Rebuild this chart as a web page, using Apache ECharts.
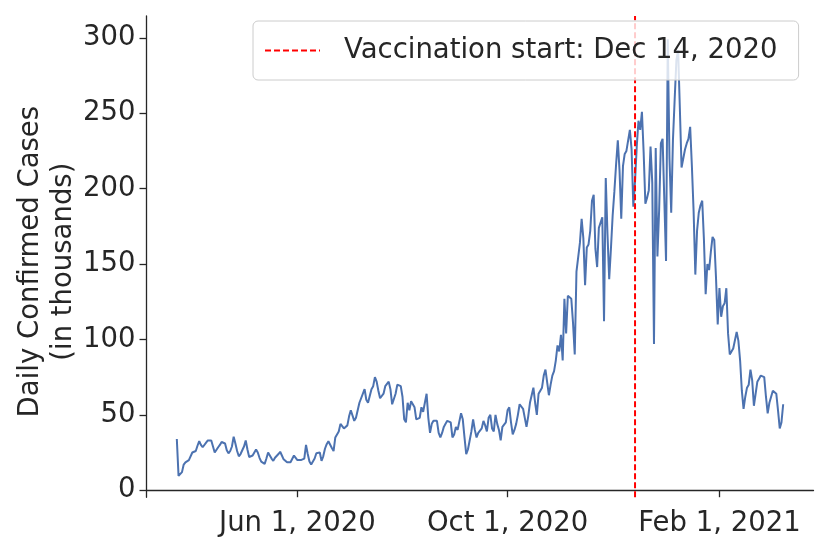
<!DOCTYPE html>
<html>
<head>
<meta charset="utf-8">
<script src="https://cdn.jsdelivr.net/npm/echarts@6.0.0/dist/echarts.min.js"></script>
<style>
  html, body { margin: 0; padding: 0; background: #fff; }
  #main { width: 830px; height: 554px; }
</style>
</head>
<body>
<div id="main"></div>
<script>
// first day of the series, one value per day after it (in thousands)
const startDate = "2020-03-23";
const dailyCases = [
  34, 9.5, 10, 12, 17, 18.5, 19.5, 20, 21, 25, 26, 26, 29.5, 32.5, 30, 28.5, 29, 31.5, 33, 34,
  33, 29, 25, 26, 28.5, 30, 32, 32.5, 31, 26.5, 24.5, 26, 29, 35.5, 31, 26, 22.5, 24, 26.5, 29,
  33, 27, 22, 22, 23, 25, 27, 25, 21.5, 19, 18, 17.5, 21, 25, 25, 21, 19.5, 21.5, 20.5, 24,
  25.5, 23, 20.5, 19.5, 18.5, 18, 18.5, 19.5, 23, 24, 20, 21, 20, 20, 21, 30, 24, 19, 17, 17.5,
  21, 24.5, 25.5, 25, 19.5, 22.5, 27.5, 30.5, 32.5, 32, 28, 26, 35, 36, 39, 44, 43, 41, 41, 43,
  49, 53, 52, 46, 48, 47, 58, 61, 60, 67, 60, 58, 58, 67, 69, 75, 72, 66, 61, 61,
  64, 69, 68, 72, 67, 57, 56, 64, 70, 69, 69, 62, 47, 45, 58, 53, 59, 60, 55, 47,
  47, 48, 55, 52, 58, 64, 48, 38, 44, 46, 45, 46, 38, 35, 38, 42, 44, 46, 47, 45,
  35, 37, 42, 40, 39, 51, 47, 35, 24, 27, 33, 39, 47, 40, 35, 38, 38, 41, 46, 43,
  39, 48, 50, 41, 39, 50, 44, 40, 33, 42, 42, 45, 53, 55, 45, 37, 40, 44, 50, 57,
  56, 54, 48, 42, 49, 58, 63, 68, 58, 50, 64, 63, 68, 76, 80, 81, 63, 70, 76, 79,
  86, 96, 92, 103, 86, 127, 104, 129, 128, 127, 111, 90, 145, 146, 164, 180, 167, 136, 161, 163,
  172, 192, 196, 160, 148, 174, 175, 181, 112, 207, 170, 140, 160, 182, 198, 216, 232, 212, 180, 215,
  223, 225, 232, 239, 226, 188, 205, 228, 245, 239, 251, 224, 190, 194, 199, 228, 204, 97, 227, 155,
  186, 230, 233, 234, 152, 299, 220, 184, 232, 259, 285, 292, 254, 214, 215, 226, 230, 233, 241, 215,
  185, 143, 172, 184, 189, 192, 166, 130, 150, 146, 158, 168, 166, 141, 110, 134, 115, 122, 124, 134,
  104, 90, 90, 94, 95, 105, 99, 86, 66, 54, 62, 68, 70, 80, 73, 56, 55, 72, 74, 76,
  77, 75, 62, 51, 58, 57, 66, 67, 64, 53, 41, 45, 57
];
const vaccinationDate = "2020-12-14";
const vaccinationLabel = "Vaccination start: Dec 14, 2020";
const xTickDates = ["2020-06-01", "2020-10-01", "2021-02-01"];
const yTicks = [0, 50, 100, 150, 200, 250, 300];
const monthNames = ["Jan", "Feb", "Mar", "Apr", "May", "Jun", "Jul", "Aug", "Sep", "Oct", "Nov", "Dec"];

const DAY = 24 * 3600 * 1000;
const textColor = "#262626";
const font = "DejaVu Sans";

function toTime(str) {
  let p = str.split("-").map(Number);
  return new Date(p[0], p[1] - 1, p[2]).getTime();
}

let t0 = toTime(startDate);
let seriesData = dailyCases.map((v, i) => [t0 + i * DAY, v]);
let tLast = t0 + (dailyCases.length - 1) * DAY;
let span = tLast - t0;

// margins like matplotlib (5% each side)
let xMin = t0 - span * 0.05;
let xMax = tLast + span * 0.05;
let yMin = -4.7;
let yMax = 314.5;

let vaxTime = toTime(vaccinationDate);
let xTicks = xTickDates.map(toTime);

let myChart = echarts.init(document.getElementById("main"), null, { renderer: "canvas" });

let option = {
  animation: false,
  backgroundColor: "#ffffff",
  grid: { left: 146.5, right: 16.5, top: 16, bottom: 56.7 },
  legend: {
    data: [vaccinationLabel],
    left: 253,
    top: 21,
    padding: [13, 21, 13, 11],
    itemWidth: 55,
    itemHeight: 14,
    itemStyle: { opacity: 0 },
    backgroundColor: "rgba(255,255,255,0.8)",
    borderColor: "#cccccc",
    borderWidth: 1,
    borderRadius: 5,
    textStyle: {
      fontFamily: font,
      fontSize: 27.5,
      color: textColor,
      lineHeight: 33,
      padding: [0, 0, 0, 19]
    }
  },
  xAxis: {
    type: "value",
    min: xMin,
    max: xMax,
    splitLine: { show: false },
    axisLine: { lineStyle: { color: textColor, width: 1.3 } },
    axisTick: {
      show: true,
      length: 7,
      lineStyle: { color: textColor, width: 1.3 },
      customValues: xTicks
    },
    axisLabel: {
      margin: 13,
      fontFamily: font,
      fontSize: 27.5,
      color: textColor,
      customValues: xTicks,
      formatter: function(val) {
        let d = new Date(val);
        return monthNames[d.getMonth()] + " " + d.getDate() + ", " + d.getFullYear();
      }
    }
  },
  yAxis: {
    type: "value",
    min: yMin,
    max: yMax,
    name: "Daily Confirmed Cases\n(in thousands)",
    nameLocation: "middle",
    nameGap: 66,
    nameMoveOverlap: false,
    nameTextStyle: {
      fontFamily: font,
      fontSize: 27.5,
      lineHeight: 33,
      color: textColor,
      padding: [0, 10, 0, 0]
    },
    splitLine: { show: false },
    axisLine: { show: true, lineStyle: { color: textColor, width: 1.3 } },
    axisTick: {
      show: true,
      length: 7,
      lineStyle: { color: textColor, width: 1.3 },
      customValues: yTicks
    },
    axisLabel: {
      margin: 11,
      fontFamily: font,
      fontSize: 27.5,
      color: textColor,
      customValues: yTicks
    }
  },
  series: [
    {
      name: "Daily cases",
      type: "line",
      data: seriesData,
      symbol: "none",
      lineStyle: { color: "#4c72b0", width: 2 },
      itemStyle: { color: "#4c72b0" },
      z: 2
    },
    {
      name: vaccinationLabel,
      type: "line",
      data: [[vaxTime, yMin], [vaxTime, yMax]],
      symbol: "none",
      lineStyle: { color: "#ff0000", width: 2, type: [6, 3] },
      itemStyle: { color: "#ff0000" },
      z: 3
    }
  ]
};

myChart.setOption(option);
</script>
</body>
</html>
